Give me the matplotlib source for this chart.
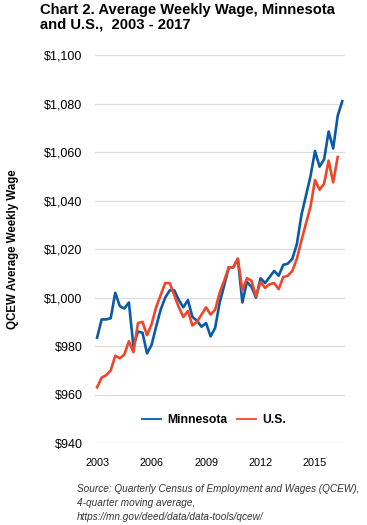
import matplotlib
matplotlib.use("Agg")
import matplotlib.pyplot as plt
from matplotlib.ticker import FuncFormatter

plt.rcParams['font.family'] = ['Liberation Sans', 'DejaVu Sans']

# quarterly values, 2003 Q1 onward (4-quarter moving average)
minnesota = [983.5, 991, 991, 991.5, 1002, 996.5, 995.5, 998, 980, 986,
             985.5, 977, 980.5, 988, 995, 1000, 1003, 1003, 999, 996,
             999, 992, 990.5, 988, 989.5, 984, 987.5, 998, 1005, 1012.5,
             1012.5, 1016, 998, 1006.5, 1004.5, 1000, 1008, 1006, 1008.5, 1011,
             1009, 1013.5, 1014, 1016, 1022, 1034, 1042, 1050, 1060.5, 1054,
             1057, 1068.5, 1061.5, 1075, 1081]
us = [963, 967, 968, 970, 976, 975, 976.5, 982, 977.5, 989.5,
      990, 984.5, 989, 996, 1001, 1006, 1006, 1001, 996, 992,
      994.5, 988.5, 990, 993, 996, 993, 995, 1002, 1007, 1012.5,
      1012.5, 1016, 1003, 1008, 1007, 1000.5, 1006.5, 1004, 1005.5, 1006,
      1003.5, 1008.5, 1009, 1011, 1016, 1023.5, 1030.5, 1037.5, 1048.5, 1044.5,
      1047, 1056.5, 1047.5, 1058]
tick_labels = ['2003', '2006', '2009', '2012', '2015']
y_ticks = [940, 960, 980, 1000, 1020, 1040, 1060, 1080, 1100]

fig = plt.figure(figsize=(3.67, 5.25), dpi=100)
ax = fig.add_axes([0.259, 0.156, 0.681, 0.739])

ax.plot(range(len(minnesota)), minnesota, color='#0b5aa6', lw=1.9, label='Minnesota')
ax.plot(range(len(us)), us, color='#f0462a', lw=1.9, label='U.S.')

ax.set_ylim(940, 1100)
ax.set_xlim(-0.45, 54.6)
ax.set_yticks(y_ticks)
ax.yaxis.set_major_formatter(FuncFormatter(lambda v, p: f"${v:,.0f}"))
ax.set_xticks(range(0, 49, 12))
ax.set_xticklabels(tick_labels)
ax.tick_params(axis='y', length=0, labelsize=9, pad=9)
ax.tick_params(axis='x', length=0, labelsize=7.8, pad=11)
ax.grid(axis='y', color='#dcdcdc', lw=0.9)
ax.set_axisbelow(True)
for s in ax.spines.values():
    s.set_visible(False)

leg = ax.legend(loc='center', bbox_to_anchor=(0.476, 0.059), ncol=2, frameon=False,
                prop={'weight': 'bold', 'size': 8.7}, handlelength=1.6,
                columnspacing=0.75, handletextpad=0.5)
for h in leg.get_lines():
    h.set_linewidth(1.3)

fig.text(0.109, 0.995, "Chart 2. Average Weekly Wage, Minnesota\nand U.S.,  2003 - 2017",
         fontsize=10.6, fontweight='bold', va='top', ha='left', linespacing=1.05)
fig.text(0.036, 0.526, "QCEW Average Weekly Wage", rotation=90, fontsize=8.3,
         fontweight='bold', va='center', ha='center')
fig.text(0.21, 0.078, "Source: Quarterly Census of Employment and Wages (QCEW),\n"
         "4-quarter moving average,\nhttps://mn.gov/deed/data/data-tools/qcew/",
         fontsize=7.2, style='italic', color='#333333', va='top', ha='left', linespacing=1.5)

fig.savefig("out.png", dpi=100)
